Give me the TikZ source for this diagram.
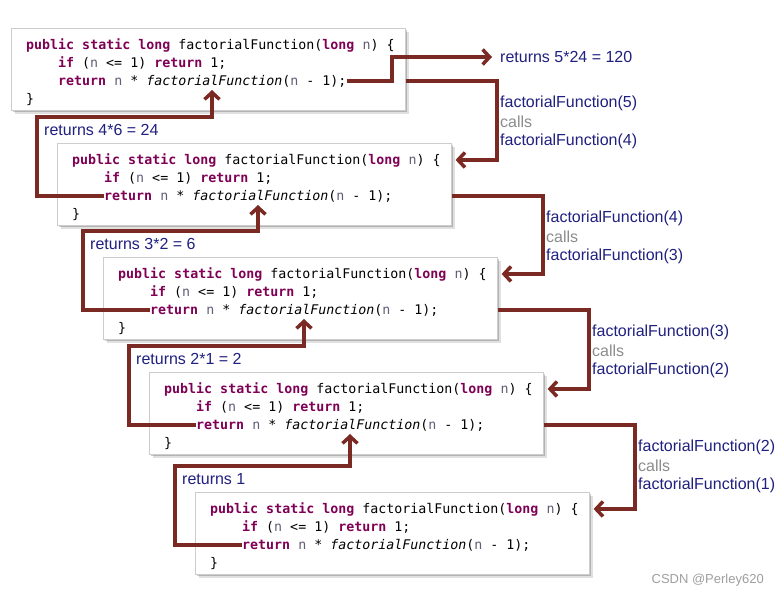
\documentclass[tikz,border=0pt]{standalone}
\usepackage{fontspec}
\setmainfont{Liberation Sans}
\setmonofont{DejaVu Sans Mono}
\usetikzlibrary{arrows.meta,shadows}
\definecolor{arr}{RGB}{122,42,34}
\definecolor{lab}{RGB}{32,32,128}
\definecolor{callc}{RGB}{140,140,140}
\definecolor{kwc}{RGB}{127,0,85}
\definecolor{nc}{RGB}{95,95,120}
\definecolor{boxc}{RGB}{205,205,205}
\newcommand{\kw}[1]{\textcolor{kwc}{\bfseries #1}}
\newcommand{\nv}{\textcolor{nc}{n}}
\begin{document}
\begin{tikzpicture}[x=1pt,y=-1pt,
  codebox/.style={draw=boxc, line width=0.6pt, fill=white, minimum width=394pt, minimum height=82pt,
    anchor=north west, inner sep=0pt,
    drop shadow={shadow xshift=4pt, shadow yshift=-4pt, opacity=0.12, fill=black},
    drop shadow={shadow xshift=2pt, shadow yshift=-2pt, opacity=0.2, fill=black}},
  codeline/.style={anchor=base west, inner sep=0pt, font=\ttfamily\fontsize{13.3}{16}\selectfont},
  lbl/.style={anchor=west, inner sep=0pt, font=\fontsize{16}{18}\selectfont, text=lab},
  callt/.style={lbl, text=callc},
  conn/.style={draw=arr, line width=3.5pt, -{Straight Barb[length=7pt,width=15pt]}},
]
\useasboundingbox (0,0) rectangle (780,597);
\fill[white] (0,0) rectangle (780,597);

\foreach \i/\X/\Y in {1/11/28,2/57/143,3/103/257,4/149/372,5/195/492}{
  \node[codebox] (box\i) at (\X,\Y) {};
  \node[codeline] (pl\i) at (\X+15,\Y+21) {\kw{public static long} factorialFunction(\kw{long} \nv) \{};
  \node[codeline] (if\i) at (\X+47,\Y+39) {\kw{if} (\nv{} <= 1) \kw{return} 1;};
  \node[codeline] (ret\i) at (\X+47,\Y+57) {\kw{return} \nv{} * \textit{factorialFunction}(\nv{} - 1);};
  \node[codeline] (cl\i) at (\X+15,\Y+75) {\}};
  \coordinate (up\i) at (\X+201,\Y+62);
  \coordinate (cx\i) at (\X+486,\Y+100);
  \coordinate (rc\i) at (\X-20,\Y-26);
}

% return labels
\node[lbl] (r0) at (500,57) {returns 5*24 = 120};
\node[lbl] (r2) at (44,130) {returns 4*6 = 24};
\node[lbl] (r3) at (90,244) {returns 3*2 = 6};
\node[lbl] (r4) at (136,359) {returns 2*1 = 2};
\node[lbl] (r5) at (182,479) {returns 1};

% call labels
\foreach \i/\X/\Y/\a/\b in {1/11/28/5/4,2/57/143/4/3,3/103/257/3/2,4/149/372/2/1}{
  \node[lbl] (ca\i) at (\X+489,\Y+75) {factorialFunction(\a)};
  \node[callt] (cb\i) at (\X+489,\Y+94) {calls};
  \node[lbl] (cc\i) at (\X+489,\Y+113) {factorialFunction(\b)};
}

% call arrows
\draw[conn] (box1.east |- ret1.center) -| (cx1) |- ([xshift=4pt]box2.east |- pl2.center);
\draw[conn] (box2.east |- ret2.center) -| (cx2) |- ([xshift=4pt]box3.east |- pl3.center);
\draw[conn] (box3.east |- ret3.center) -| (cx3) |- ([xshift=4pt]box4.east |- pl4.center);
\draw[conn] (box4.east |- ret4.center) -| (cx4) |- ([xshift=4pt]box5.east |- pl5.center);

% return arrows
\coordinate (tc) at (392,70);
\draw[conn] (ret1.east) -| (tc) |- ([xshift=-8pt]r0.west);
\draw[conn] (ret2.west) -| (rc2) -| (up1);
\draw[conn] (ret3.west) -| (rc3) -| (up2);
\draw[conn] (ret4.west) -| (rc4) -| (up3);
\draw[conn] (ret5.west) -| (rc5) -| (up4);

\node[anchor=east, inner sep=0pt, text=gray!75, font=\fontsize{13}{15}\selectfont] (wm) at (764,580) {CSDN @Perley620};
\end{tikzpicture}
\end{document}
